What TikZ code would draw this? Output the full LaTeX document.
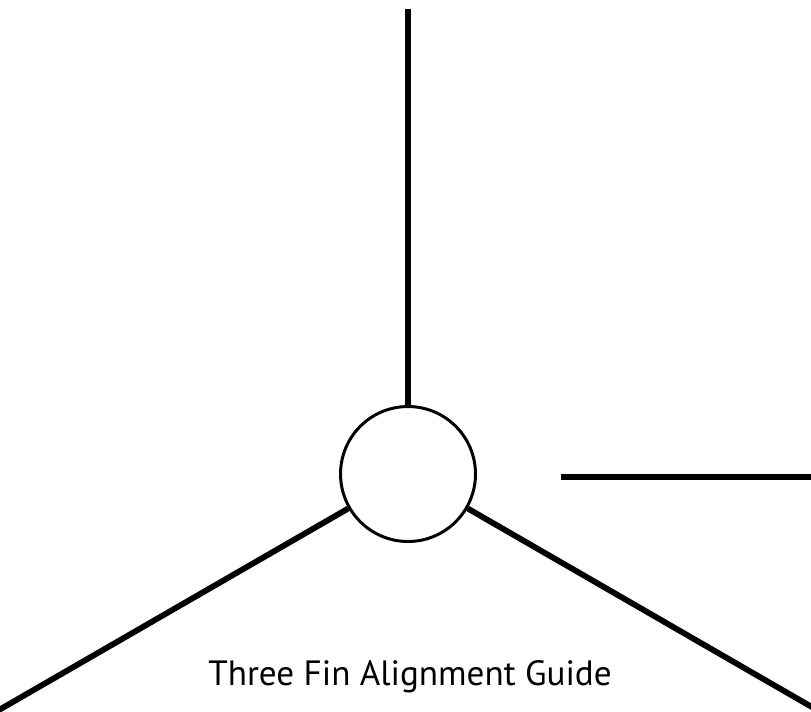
\documentclass[tikz,border=0pt]{standalone}
\usepackage{fontspec}
\setmainfont{PT Sans}
\usetikzlibrary{positioning}

\begin{document}
\begin{tikzpicture}[
  x=0.02cm,
  y=-0.02cm,
  fin/.style={
    draw,
    line width=3.3pt
  },
  hub/.style={
    draw,
    circle,
    line width=1.7pt,
    minimum size=2.7cm,
    inner sep=0pt
  },
  caption/.style={
    anchor=base,
    font=\fontsize{20}{24}\selectfont
  }
]
  \useasboundingbox (0,0) rectangle (811,711);
  \clip (0,0) rectangle (811,711);

  \node[hub] (hub) at (408,474) {};

  \coordinate (top) at (408,9);
  \coordinate (lowleft) at (-8,714);
  \coordinate (lowright) at (824,714);
  \coordinate (barstart) at (561,477);
  \coordinate (barend) at (811,477);

  \draw[fin] (hub) -- (top);
  \draw[fin] (hub) -- (lowleft);
  \draw[fin] (hub) -- (lowright);
  \draw[fin,line width=3.5pt] (barstart) -- (barend);

  \node[caption] (title) at (410,685) {Three Fin Alignment Guide};
\end{tikzpicture}
\end{document}
